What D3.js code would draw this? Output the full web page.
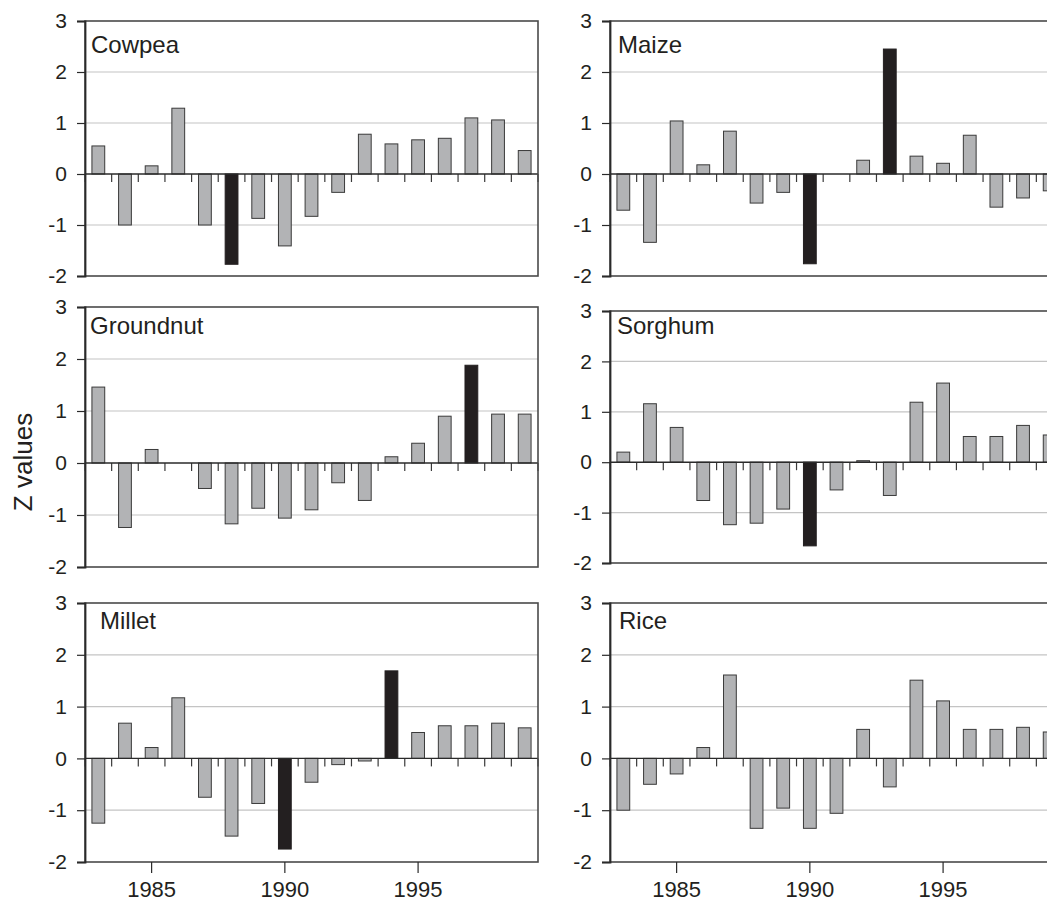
<!DOCTYPE html>
<html>
<head>
<meta charset="utf-8">
<script src="https://cdn.jsdelivr.net/npm/d3@7"></script>
<style>
  html, body { margin: 0; padding: 0; background: #fff; overflow: hidden; }
  svg { display: block; }
  text { font-family: "Liberation Sans", Arial, Helvetica, sans-serif; fill: #231f20; }
</style>
</head>
<body>
<svg id="chart" width="1047" height="904"></svg>
<script>
// ---- data ----
const years = [1983,1984,1985,1986,1987,1988,1989,1990,1991,1992,1993,1994,1995,1996,1997,1998,1999];
const crops = ["Cowpea","Maize","Groundnut","Sorghum","Millet","Rice"];
const cowpea    = [0.55,-1.00,0.16,1.29,-1.00,-1.77,-0.87,-1.41,-0.83,-0.36,0.78,0.59,0.67,0.70,1.10,1.06,0.46];
const maize     = [-0.71,-1.34,1.04,0.18,0.84,-0.57,-0.36,-1.76,0,0.27,2.45,0.35,0.21,0.76,-0.65,-0.47,-0.33];
const groundnut = [1.46,-1.24,0.26,0,-0.49,-1.17,-0.87,-1.06,-0.90,-0.38,-0.72,0.12,0.38,0.90,1.88,0.94,0.94];
const sorghum   = [0.20,1.16,0.69,-0.76,-1.24,-1.21,-0.93,-1.66,-0.55,0.03,-0.66,1.19,1.57,0.51,0.51,0.73,0.54];
const millet    = [-1.25,0.68,0.21,1.17,-0.75,-1.50,-0.87,-1.75,-0.46,-0.12,-0.05,1.69,0.50,0.63,0.63,0.68,0.59];
const rice      = [-1.00,-0.50,-0.30,0.21,1.61,-1.35,-0.96,-1.35,-1.06,0.56,-0.55,1.51,1.11,0.56,0.56,0.60,0.51];
const seriesValues = [cowpea, maize, groundnut, sorghum, millet, rice];
// years drawn as dark (extreme) bars in each panel
const highlightYears = [[1988],[1990,1993],[1997],[1990],[1990,1994],[]];
const yTicks = [-2,-1,0,1,2,3];
const xTickYears = [1985,1990,1995];
const yTitle = "Z values";

// ---- layout (not data) ----
const panels = [
  {x0: 85,  x1: 538,  y0: 21,  y1: 276, tx: 6,  ty: 32, xAxis: false},
  {x0: 610, x1: 1063, y0: 21,  y1: 276, tx: 8,  ty: 32, xAxis: false},
  {x0: 85,  x1: 538,  y0: 307, y1: 567, tx: 5,  ty: 27, xAxis: false},
  {x0: 610, x1: 1063, y0: 311, y1: 563, tx: 7,  ty: 23, xAxis: false},
  {x0: 85,  x1: 538,  y0: 603, y1: 862, tx: 15, ty: 26, xAxis: true},
  {x0: 610, x1: 1063, y0: 603, y1: 862, tx: 9,  ty: 26, xAxis: true}
];

const svg = d3.select("#chart");
const GRAY = "#b2b3b5", DARK = "#231f20", EDGE = "#3a3a3a", GRID = "#c4c4c4", FRAME = "#4a4a4a";

crops.forEach((name, i) => {
  const p = panels[i];
  const vals = seriesValues[i];
  const hl = highlightYears[i];
  const data = years.map((yr, k) => ({year: yr, v: vals[k]}));

  const x = d3.scaleBand().domain(years).range([p.x0, p.x1]).paddingInner(0.52).paddingOuter(0.26);
  const y = d3.scaleLinear().domain([-2, 3]).range([p.y1, p.y0]);
  const step = x.step();

  const g = svg.append("g");

  // grid lines
  g.selectAll("line.grid").data(yTicks.filter(t => t !== 0 && t !== 3 && t !== -2)).enter()
    .append("line")
    .attr("x1", p.x0).attr("x2", p.x1)
    .attr("y1", d => y(d)).attr("y2", d => y(d))
    .attr("stroke", GRID).attr("stroke-width", 1.2);

  // small ticks hanging from the zero line at band boundaries
  const bounds = years.map(yr => x(yr) - (step - x.bandwidth()) / 2);
  bounds.push(p.x1);
  g.selectAll("line.zt").data(bounds).enter()
    .append("line")
    .attr("x1", d => d).attr("x2", d => d)
    .attr("y1", y(0)).attr("y2", y(0) + 8)
    .attr("stroke", EDGE).attr("stroke-width", 1.2);

  // bars
  g.selectAll("rect.bar").data(data.filter(d => d.v !== 0)).enter()
    .append("rect")
    .attr("x", d => x(d.year))
    .attr("width", x.bandwidth())
    .attr("y", d => y(Math.max(0, d.v)))
    .attr("height", d => Math.abs(y(d.v) - y(0)))
    .attr("fill", d => hl.includes(d.year) ? DARK : GRAY)
    .attr("stroke", d => hl.includes(d.year) ? DARK : EDGE)
    .attr("stroke-width", 1);

  // zero line
  g.append("line")
    .attr("x1", p.x0).attr("x2", p.x1)
    .attr("y1", y(0)).attr("y2", y(0))
    .attr("stroke", "#2a2a2a").attr("stroke-width", 1.4);

  // frame
  g.append("rect")
    .attr("x", p.x0).attr("y", p.y0)
    .attr("width", p.x1 - p.x0).attr("height", p.y1 - p.y0)
    .attr("fill", "none").attr("stroke", FRAME).attr("stroke-width", 1.6);

  // y axis
  const ya = d3.axisLeft(y).tickValues(yTicks).tickSize(8).tickPadding(10).tickFormat(d => String(d));
  const yg = svg.append("g").attr("transform", `translate(${p.x0},0)`).call(ya);
  yg.select(".domain").attr("stroke", "#2a2a2a").attr("stroke-width", 1.8);
  yg.selectAll(".tick line").attr("stroke", "#2a2a2a").attr("stroke-width", 1.2);
  yg.selectAll(".tick text").attr("font-size", 21).attr("fill", "#231f20")
    .attr("font-family", "'Liberation Sans', Arial, sans-serif");

  // x axis (bottom row only)
  if (p.xAxis) {
    const xa = d3.axisBottom(x).tickValues(xTickYears).tickSize(11).tickPadding(8).tickFormat(d => String(d));
    const xg = svg.append("g").attr("transform", `translate(0,${p.y1})`).call(xa);
    xg.select(".domain").remove();
    xg.selectAll(".tick line").attr("stroke", "#2a2a2a").attr("stroke-width", 1.2);
    xg.selectAll(".tick text").attr("font-size", 22).attr("fill", "#231f20")
      .attr("font-family", "'Liberation Sans', Arial, sans-serif");
  }

  // panel title
  svg.append("text")
    .attr("x", p.x0 + p.tx).attr("y", p.y0 + p.ty)
    .attr("font-size", 24)
    .text(name);
});

// y-axis title
svg.append("text")
  .attr("transform", "translate(32,462) rotate(-90)")
  .attr("text-anchor", "middle")
  .attr("font-size", 26)
  .text(yTitle);
</script>
</body>
</html>
